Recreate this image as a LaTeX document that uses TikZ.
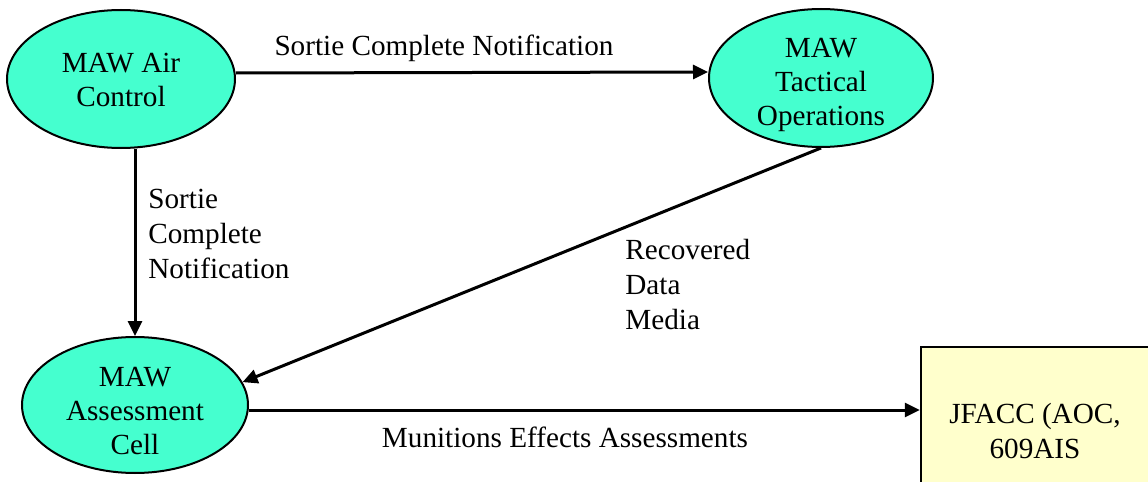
\documentclass[tikz,border=0pt]{standalone}
\usepackage{fontspec}
\setmainfont{Liberation Serif}
\usetikzlibrary{shapes.geometric,arrows.meta}
\definecolor{unitfill}{RGB}{69,255,207}
\definecolor{extfill}{RGB}{255,255,204}
\tikzset{
  unit/.style={ellipse,draw=black,line width=1pt,fill=unitfill,inner sep=0pt},
  unittext/.style={inner sep=0pt,align=center,font=\fontsize{14.6}{17.2}\selectfont},
  extbox/.style={rectangle,draw=black,line width=1.2pt,fill=extfill,inner sep=0pt,
    align=center,font=\fontsize{14.6}{17.5}\selectfont},
  flow/.style={line width=1.5pt,-{Triangle[length=7.5pt,width=7pt]}},
  lbl/.style={inner sep=0pt,font=\fontsize{14.6}{17.5}\selectfont},
}
\begin{document}
\begin{tikzpicture}[x=0.5pt,y=-0.5pt]
\useasboundingbox (0,0) rectangle (1148,482);

% organisations
\node[unit,minimum width=114pt,minimum height=69pt] (air) at (121,79) {};
\node[unittext] (air-t) at (121,80) {MAW Air\\Control};
\node[unit,minimum width=112pt,minimum height=69pt] (tac) at (821,78) {};
\node[unittext] (tac-t) at (821,85) {MAW\\Tactical\\Operations};
\node[unit,minimum width=113pt,minimum height=68pt] (cell) at (135,405) {};
\node[unittext] (cell-t) at (135,411) {MAW\\Assessment\\Cell};

\begin{scope}
  \clip (0,0) rectangle (1148,482);
  \node[extbox,minimum width=114pt,minimum height=84pt] (jfacc) at (1035,431) {JFACC (AOC,\\609AIS};
\end{scope}

% information flows
\draw[flow] ([yshift=3pt]air.east) -- ([yshift=3pt]tac.west);
\draw[flow] (air.south -| cell.north) -- (cell.north);
\draw[flow] (tac.south) -- (cell.12);
\draw[flow] ([yshift=-2.5pt]cell.east) -- ([yshift=-2.5pt]cell.east -| jfacc.west);

% flow labels
\node[lbl] (l1) at (444,48) {Sortie Complete Notification};
\node[lbl,anchor=west,align=left] (l2) at (148,234) {Sortie\\Complete\\Notification};
\node[lbl,anchor=west,align=left] (l3) at (625,285) {Recovered\\Data\\Media};
\node[lbl] (l4) at (565,437) {Munitions Effects Assessments};
\end{tikzpicture}
\end{document}
